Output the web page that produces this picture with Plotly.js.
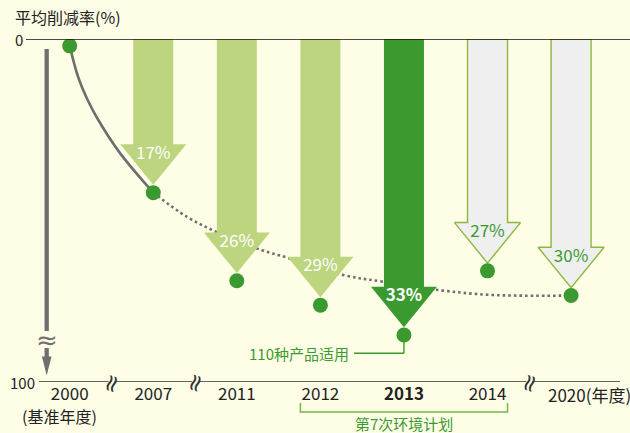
<!DOCTYPE html>
<html>
<head>
<meta charset="utf-8">
<script src="https://cdn.plot.ly/plotly-3.0.1.min.js"></script>
<style>
  html, body { margin: 0; padding: 0; background: #fefde5; }
  #chart { width: 630px; height: 433px; }
</style>
</head>
<body>
<div id="chart"></div>
<script>
// ---------- data ----------
const years = ['2000', '2007', '2011', '2012', '2013', '2014', '2020'];
const reductionPct = [0, 17, 26, 29, 33, 27, 30];            // 平均削减率 (%)
const dotDepth = [2.0, 44.8, 70.5, 77.6, 86.3, 67.6, 74.8];  // position on the schematic (broken) axis
const arrowKind = ['base', 'past', 'past', 'past', 'current', 'target', 'target'];
const yTickValues = [0, 100];
const yTickLabels = ['0', '100'];
// trend curves (index of year slot, schematic depth)
const trendSolidX = [0, 0.10, 0.215, 0.33, 0.6, 1];
const trendSolidY = [2.0, 11.0, 17.8, 23.1, 33.2, 44.8];
const trendDotX = [1, 1.40, 1.77, 2.29, 2.61, 3.27, 3.76, 4.42, 5.03, 6];
const trendDotY = [44.8, 51.8, 56.4, 61.5, 63.8, 68.8, 70.8, 73.2, 74.6, 74.8];
const baseNote = '(基准年度)';
const unitNote = '(年度)';
const productNote = '110种产品适用';
const planNote = '第7次环境计划';
const titleText = '平均削减率(%)';

// ---------- layout constants ----------
const W = 630, H = 433;
const M = { l: 25, r: 0, t: 39, b: 51 };
const xRange = [-0.535, 6.705];
const yRange = [100, 0];
const plotW = W - M.l - M.r, plotH = H - M.t - M.b;
const pxX = plotW / (xRange[1] - xRange[0]);   // px per slot
const pxY = plotH / Math.abs(yRange[0] - yRange[1]); // px per depth unit
const FONT = '"Noto Sans CJK SC", "Noto Sans", sans-serif';
const BG = '#fefde5';
const LIGHT = '#bdd57f', DARK = '#3b9a2f', GREY_FILL = '#efefef', OUTLINE = '#8cb83c';
const TEXT_GREEN = '#3b9a2f';

const shaftHalf = 20 / pxX, headHalf = 33 / pxX;
const tipGap = 7.8 / pxY, headH = 40.5 / pxY;

const idx = years.map((_, i) => i);
const lastIdx = idx[idx.length - 1];
const traces = [];

// dotted trend (behind arrows)
traces.push({
  x: trendDotX, y: trendDotY, mode: 'lines', type: 'scatter',
  line: { color: '#707070', width: 2.6, dash: '2.6px,3px', shape: 'spline', smoothing: 1 },
  hoverinfo: 'skip'
});
// solid trend
traces.push({
  x: trendSolidX, y: trendSolidY, mode: 'lines', type: 'scatter',
  line: { color: '#6e6e6e', width: 2.6, shape: 'spline', smoothing: 1 },
  hoverinfo: 'skip'
});

// arrows
const labelX = [], labelY = [], labelT = [], labelC = [];
idx.forEach(i => {
  const kind = arrowKind[i];
  if (kind === 'base') return;
  const tip = dotDepth[i] - tipGap;
  const sb = tip - headH;
  const fill = kind === 'past' ? LIGHT : kind === 'current' ? DARK : GREY_FILL;
  const outlined = kind === 'target';
  traces.push({
    type: 'scatter', mode: 'lines', fill: 'toself', fillcolor: fill,
    x: [i - shaftHalf, i - shaftHalf, i - headHalf, i, i + headHalf, i + shaftHalf, i + shaftHalf, i - shaftHalf],
    y: [0, sb, sb, tip, sb, sb, 0, 0],
    line: { color: outlined ? OUTLINE : fill, width: outlined ? 1.4 : 0 },
    hoverinfo: 'skip'
  });
  labelX.push(i);
  labelY.push(sb + 10 / pxY);
  labelT.push(kind === 'current' ? '<b>' + reductionPct[i] + '%</b>' : reductionPct[i] + '%');
  labelC.push(outlined ? TEXT_GREEN : '#ffffff');
});

// dots
traces.push({
  x: idx, y: dotDepth, type: 'scatter', mode: 'markers',
  marker: { color: DARK, size: 15, line: { width: 0 } },
  hoverinfo: 'skip'
});

// arrow labels
traces.push({
  x: labelX, y: labelY, text: labelT, type: 'scatter', mode: 'text',
  textposition: 'middle center',
  textfont: { family: FONT, size: 17, color: labelC },
  hoverinfo: 'skip'
});

// ---------- shapes ----------
const shapes = [];
// top zero line
shapes.push({ type: 'line', xref: 'paper', yref: 'y', x0: (26 - M.l) / plotW, x1: 1, y0: 0, y1: 0,
  line: { color: '#111', width: 1.5 }, layer: 'above' });
// bottom line with breaks at 0.5, 1.5, 5.5
const breaks = [0.5, 1.5, 5.5];
const gap = 3 / pxX;
const xStart = xRange[0] + (39 - M.l) / pxX, xEnd = xRange[0] + (620 - M.l) / pxX;
let segStart = xStart;
breaks.concat([null]).forEach(b => {
  const segEnd = b === null ? xEnd : b - gap;
  shapes.push({ type: 'line', xref: 'x', yref: 'y', x0: segStart, x1: segEnd, y0: 100, y1: 100,
    line: { color: '#333', width: 1.3 }, layer: 'above' });
  if (b !== null) segStart = b + gap;
});
// left grey arrow
const ax = (46.7 - M.l) / plotW;
const py2d = p => (p - M.t) / pxY;
shapes.push({ type: 'line', xref: 'paper', yref: 'y', x0: ax, x1: ax, y0: py2d(49), y1: py2d(331),
  line: { color: '#6f6f6f', width: 4.3 } });
shapes.push({ type: 'line', xref: 'paper', yref: 'y', x0: ax, x1: ax, y0: py2d(348), y1: py2d(358),
  line: { color: '#6f6f6f', width: 4.3 } });
const hw = 4.8 / plotW;
shapes.push({ type: 'path', xref: 'paper', yref: 'y',
  path: `M ${ax - hw} ${py2d(356.5)} L ${ax + hw} ${py2d(356.5)} L ${ax} ${py2d(375.5)} Z`,
  fillcolor: '#6f6f6f', line: { width: 0 } });
// connector for 2013 note
const i13 = years.indexOf('2013');
const noteDepth = py2d(353.3);
shapes.push({ type: 'line', xref: 'x', yref: 'y', x0: i13, x1: i13, y0: dotDepth[i13], y1: noteDepth,
  line: { color: DARK, width: 1.4 }, layer: 'below' });
shapes.push({ type: 'line', xref: 'x', yref: 'y', x0: i13, x1: i13 - 50 / pxX, y0: noteDepth, y1: noteDepth,
  line: { color: DARK, width: 1.4 } });
// bracket for 第7次环境计划
const i12 = years.indexOf('2012'), i14 = years.indexOf('2014');
const bx0 = i12 - 20 / pxX, bx1 = i14 + 20 / pxX;
const pyPaper = p => (M.t + plotH - p) / plotH;
shapes.push({ type: 'path', xref: 'x', yref: 'paper',
  path: `M ${bx0} ${pyPaper(403)} L ${bx0} ${pyPaper(412)} L ${bx1} ${pyPaper(412)} L ${bx1} ${pyPaper(403)}`,
  line: { color: '#72b648', width: 1.5 } });

// ---------- annotations ----------
const annotations = [];
// y tick labels
annotations.push({ xref: 'paper', yref: 'y', x: (25 - M.l) / plotW, y: yTickValues[0], text: yTickLabels[0],
  xanchor: 'right', yanchor: 'middle', showarrow: false, font: { family: FONT, size: 15, color: '#222' } });
annotations.push({ xref: 'paper', yref: 'y', x: (37 - M.l) / plotW, y: yTickValues[1], text: yTickLabels[1],
  xanchor: 'right', yanchor: 'middle', showarrow: false, font: { family: FONT, size: 15, color: '#222' } });
// break marks on bottom axis
breaks.forEach(b => annotations.push({ xref: 'x', yref: 'paper', x: b, y: 0, yshift: -1, text: '≈', textangle: -72,
  showarrow: false, xanchor: 'center', yanchor: 'middle',
  font: { family: 'DejaVu Sans', size: 24, color: '#333' } }));
// break mark on the grey arrow
annotations.push({ xref: 'paper', yref: 'y', x: ax, y: py2d(339.5), text: '≈', showarrow: false,
  xanchor: 'center', yanchor: 'middle', font: { family: 'DejaVu Sans', size: 26, color: '#6f6f6f' } });
// notes under axis
annotations.push({ xref: 'x', yref: 'paper', x: 0, xshift: -10, y: pyPaper(416), text: baseNote, showarrow: false,
  xanchor: 'center', yanchor: 'middle', font: { family: FONT, size: 16, color: '#222' } });
annotations.push({ xref: 'x', yref: 'paper', x: lastIdx, xshift: -25, y: pyPaper(394), text: years[lastIdx] + unitNote,
  showarrow: false, xanchor: 'left', yanchor: 'middle', font: { family: FONT, size: 17, color: '#222' } });
annotations.push({ xref: 'x', yref: 'y', x: i13 - 50 / pxX, xshift: -3, y: noteDepth, text: productNote,
  showarrow: false, xanchor: 'right', yanchor: 'middle', font: { family: FONT, size: 15, color: TEXT_GREEN } });
annotations.push({ xref: 'x', yref: 'paper', x: (bx0 + bx1) / 2, y: pyPaper(423.5), text: planNote,
  showarrow: false, xanchor: 'center', yanchor: 'middle', font: { family: FONT, size: 15, color: TEXT_GREEN } });

const layout = {
  width: W, height: H,
  margin: M,
  paper_bgcolor: BG, plot_bgcolor: BG,
  showlegend: false,
  title: { text: titleText, x: 15 / W, xanchor: 'left', xref: 'container', y: 1 - 18 / H, yanchor: 'middle', yref: 'container',
    font: { family: FONT, size: 16, color: '#222' } },
  xaxis: {
    range: xRange, showgrid: false, zeroline: false, showline: false, ticks: '',
    tickmode: 'array', tickvals: idx,
    ticktext: years.map((y, i) => i === lastIdx ? '' : (y === '2013' ? '<b>' + y + '</b>' : y)),
    tickfont: { family: FONT, size: 17, color: '#222' },
    fixedrange: true
  },
  yaxis: {
    range: yRange, showgrid: false, zeroline: false, showline: false, showticklabels: false, ticks: '',
    fixedrange: true
  },
  shapes, annotations
};

Plotly.newPlot('chart', traces, layout, { displayModeBar: false, staticPlot: true });
</script>
</body>
</html>
